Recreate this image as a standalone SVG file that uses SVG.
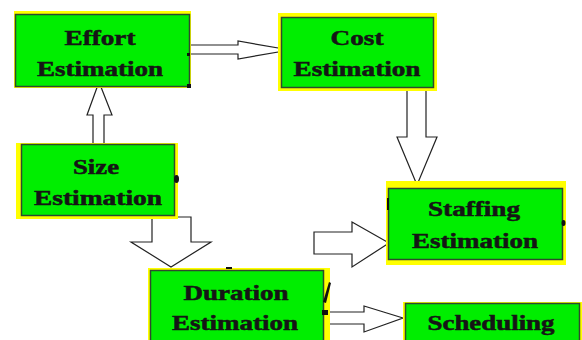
<svg xmlns="http://www.w3.org/2000/svg" width="582" height="340" viewBox="0 0 582 340">
<style>
.y{fill:#ffff00;}
.g{fill:#00ee00;stroke:#2e4a2e;stroke-width:1.5;}
.t{font-family:"Liberation Serif","Times New Roman",serif;font-weight:bold;font-size:20px;fill:#151515;stroke:#151515;stroke-width:0.5;text-anchor:middle;}
.a{fill:#ffffff;stroke:#222222;stroke-width:1.2;stroke-linejoin:miter;}
.d{fill:#111111;}
</style>
<rect width="582" height="340" fill="#ffffff"/>
<g id="connectors">
<polygon class="a" points="186,45 238,45 238,41 290,50 238,59 238,54 186,54"/>
<polygon class="a" points="93,147 93,115 87,115 99,82 112,115 104,115 104,147"/>
<polygon class="a" points="407,88 426,88 426,137 437,137 417,185 397,137 407,137"/>
<polygon class="a" points="152,217 191,217 191,242 211,242 171,267 131,242 152,242"/>
<polygon class="a" points="314,232 352,232 352,222 389,243 352,267 352,254 314,254"/>
<polygon class="a" points="326,312 364,312 364,306 403,318 364,332 364,324 326,324"/>
</g>
<g id="effort">
<rect class="y" x="14" y="11" width="177" height="77"/>
<rect class="g" x="15.5" y="14.5" width="174" height="72"/>
<text class="t" x="100" y="45" textLength="71" lengthAdjust="spacingAndGlyphs">Effort</text>
<text class="t" x="100" y="76" textLength="126" lengthAdjust="spacingAndGlyphs">Estimation</text>
<rect class="d" x="187" y="53" width="3" height="3"/>
<rect class="d" x="187" y="84" width="4" height="4"/>
</g>
<g id="cost">
<rect class="y" x="278" y="13" width="159" height="78"/>
<rect class="g" x="281.5" y="17.5" width="152" height="70"/>
<text class="t" x="357" y="45" textLength="53" lengthAdjust="spacingAndGlyphs">Cost</text>
<text class="t" x="357" y="76" textLength="127" lengthAdjust="spacingAndGlyphs">Estimation</text>
</g>
<g id="size">
<rect class="y" x="16" y="143" width="162" height="76"/>
<rect class="g" x="21.5" y="144.5" width="153" height="71"/>
<text class="t" x="96" y="174" textLength="46" lengthAdjust="spacingAndGlyphs">Size</text>
<text class="t" x="98" y="205" textLength="128" lengthAdjust="spacingAndGlyphs">Estimation</text>
<ellipse class="d" cx="176.5" cy="179" rx="2.5" ry="4"/>
</g>
<g id="staffing">
<rect class="y" x="386" y="181" width="180" height="84"/>
<rect class="g" x="388.5" y="188.5" width="174" height="71"/>
<text class="t" x="474" y="216" textLength="92" lengthAdjust="spacingAndGlyphs">Staffing</text>
<text class="t" x="475" y="248" textLength="126" lengthAdjust="spacingAndGlyphs">Estimation</text>
<rect class="d" x="387" y="198" width="2" height="12"/>
<ellipse class="d" cx="563.5" cy="223" rx="2" ry="3"/>
</g>
<g id="duration">
<rect class="y" x="148" y="268" width="182" height="80"/>
<rect class="g" x="150.5" y="270.5" width="173" height="75"/>
<text class="t" x="236" y="300" textLength="105" lengthAdjust="spacingAndGlyphs">Duration</text>
<text class="t" x="235" y="330" textLength="126" lengthAdjust="spacingAndGlyphs">Estimation</text>
<path class="d" d="M323,302 L329,282 L331,283 L326,303 Z"/>
<rect class="d" x="322" y="310" width="6" height="5"/>
<rect class="d" x="226" y="267" width="6" height="2"/>
</g>
<g id="scheduling">
<rect class="y" x="403" y="302" width="179" height="45"/>
<rect class="g" x="405.5" y="303.5" width="174" height="45"/>
<text class="t" x="491" y="330" textLength="127" lengthAdjust="spacingAndGlyphs">Scheduling</text>
</g>
</svg>
